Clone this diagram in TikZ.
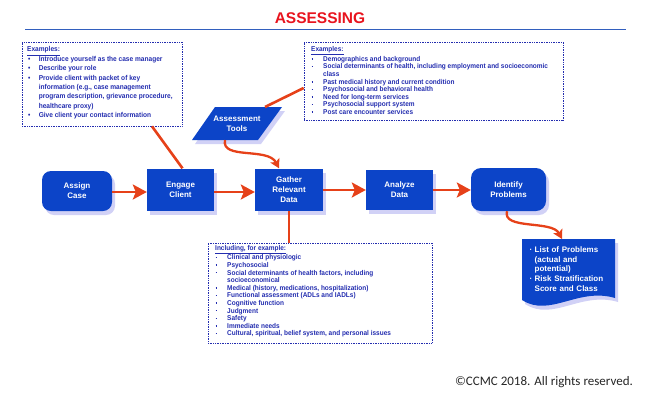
\documentclass[tikz,border=0pt]{standalone}
\usepackage{fontspec}
\usepackage{graphicx}
\setmainfont{Liberation Sans}
\newfontfamily\calfont{Carlito}
\usetikzlibrary{arrows.meta,shadows,calc}
\definecolor{nodeblue}{RGB}{12,68,200}
\definecolor{txtblue}{RGB}{35,45,175}
\definecolor{arrred}{RGB}{230,65,25}
\definecolor{titlered}{RGB}{232,20,30}
\definecolor{lineblue}{RGB}{50,95,190}
\definecolor{shad}{RGB}{190,190,242}
\newcommand\lbul{\par\hangindent=12.5pt\hangafter=1\noindent\makebox[12.5pt][l]{\hspace{1pt}\textbullet}}
\newcommand\sbul{\par\hangindent=13pt\hangafter=1\noindent\makebox[13pt][l]{\hspace{0.5pt}\rule[1.6pt]{1.6pt}{1.5pt}}}
\newcommand\dbul{\par\hangindent=5pt\hangafter=1\noindent\makebox[5pt][l]{\textperiodcentered}}
\newcommand\narrowblock[3]{\scalebox{0.925}[1]{\parbox[t]{#1}{\raggedright\bfseries#2#3}}}
\tikzset{
  myshadow/.style={drop shadow={shadow xshift=3pt,shadow yshift=-4pt,fill=shad,opacity=.7}},
  flow/.style={fill=nodeblue, text=white, font=\bfseries\fontsize{8}{10}\selectfont, align=center, inner sep=0pt, myshadow},
  exbox/.style={draw=txtblue, densely dotted, line width=0.7pt, inner sep=0pt},
  extext/.style={text=txtblue, inner sep=0pt, anchor=north west},
  conn/.style={draw=arrred, line width=2.6pt},
  bigarrow/.style={conn, -{Stealth[length=14pt,width=15pt,inset=3pt]}},
  smallarrow/.style={conn, line width=2.3pt, -{Stealth[length=9pt,width=10pt,inset=2pt]}}
}
\begin{document}
\begin{tikzpicture}[x=1pt,y=-1pt]
\useasboundingbox (0,0) rectangle (658,405);
% title
\node[font=\bfseries\fontsize{15.5}{18}\selectfont, text=titlered, inner sep=0pt] (title) at (320,18.5) {ASSESSING};
\coordinate (rl) at (25,29.5);
\coordinate (rr) at (626,29.5);
\draw[lineblue, line width=1.6pt] (rl) -- (rr);

% example boxes
\node[exbox, minimum width=160pt, minimum height=84pt] (exL) at (102,84) {};
\node[extext] (exLt) at (27,46.5) {\narrowblock{170pt}{\fontsize{7.1}{9.4}\selectfont}{%
\underline{Examples:}%
\lbul Introduce yourself as the case manager
\lbul Describe your role
\lbul Provide client with packet of key\newline information (e.g., case management\newline program description, grievance procedure,\newline healthcare proxy)
\lbul Give client your contact information\par}};

\node[exbox, minimum width=259pt, minimum height=78pt] (exR) at (433.5,81) {};
\node[extext] (exRt) at (311,46.5) {\narrowblock{275pt}{\fontsize{7}{7.6}\selectfont}{%
\underline{Examples:}%
\sbul Demographics and background
\sbul Social determinants of health, including employment and socioeconomic\newline class
\sbul Past medical history and current condition
\sbul Psychosocial and behavioral health
\sbul Need for long-term services
\sbul Psychosocial support system
\sbul Post care encounter services\par}};

\node[exbox, minimum width=224pt, minimum height=100pt] (exB) at (320,293) {};
\node[extext] (exBt) at (215,245) {\narrowblock{235pt}{\fontsize{7}{7.6}\selectfont}{%
\underline{Including, for example:}%
\sbul Clinical and physiologic
\sbul Psychosocial
\sbul Social determinants of health factors, including\newline socioeconomical
\sbul Medical (history, medications, hospitalization)
\sbul Functional assessment (ADLs and IADLs)
\sbul Cognitive function
\sbul Judgment
\sbul Safety
\sbul Immediate needs
\sbul Cultural, spiritual, belief system, and personal issues\par}};

% assessment tools parallelogram
\coordinate (pTL) at (215,107);
\coordinate (pTR) at (282,107);
\coordinate (pBR) at (258,140);
\coordinate (pBL) at (192,140);
\fill[nodeblue, myshadow] (pTL) -- (pTR) -- (pBR) -- (pBL) -- cycle;
\node[font=\bfseries\fontsize{8}{10}\selectfont, text=white, align=center, inner sep=0pt] (tools) at (237,123.5) {Assessment\\Tools};
\coordinate (toolsTop) at (265,107);
\coordinate (toolsBot) at (225,140);

% flow nodes
\node[flow, rounded corners=9pt, minimum width=70pt, minimum height=40pt] (assign) at (77,191) {Assign\\Case};
\node[flow, minimum width=67pt, minimum height=42pt] (engage) at (180.5,189.5) {Engage\\Client};
\node[flow, minimum width=68pt, minimum height=42pt] (gather) at (289,189.5) {Gather\\Relevant\\Data};
\node[flow, minimum width=67pt, minimum height=40pt] (analyze) at (399.5,189.5) {Analyze\\Data};
\node[flow, rounded corners=10pt, minimum width=75pt, minimum height=43pt] (identify) at (508.5,189.5) {Identify\\Problems};

% document shape
\fill[nodeblue, myshadow] (522,239) -- (615,239) -- (615,298) .. controls (578,287) and (550,318) .. (522,300) -- cycle;
\node[extext, text=white, text width=85pt, align=left, font=\bfseries\fontsize{8}{9.7}\selectfont] (doc) at (529.5,242.5) {%
\dbul List of Problems\newline (actual and\newline potential)
\dbul Risk Stratification\newline Score and Class\par};
\coordinate (docTop) at (562,239);

% connectors
\draw[bigarrow] (assign.east |- 0,192) -- (engage.west |- 0,192);
\draw[bigarrow] (engage.east |- 0,192) -- (gather.west |- 0,192);
\draw[bigarrow] (gather.east |- 0,190) -- (analyze.west |- 0,190);
\draw[bigarrow] (analyze.east |- 0,190) -- (identify.west |- 0,190);
\draw[conn] ([xshift=50pt]exL.south) -- ([xshift=2pt]engage.north);
\draw[conn] ([yshift=-7pt]exR.west) -- (toolsTop);
\draw[conn] (gather.south) -- (gather.south |- exB.north);
\draw[smallarrow] (toolsBot) .. controls (221,160) and (268,147) .. ([xshift=-10pt]gather.north);
\draw[smallarrow] ([xshift=-1.5pt]identify.south) .. controls (502,230) and (552,220) .. (docTop);

% copyright
\node[font=\calfont\fontsize{13}{15}\selectfont, inner sep=0pt, text=black!85] (copy) at (544,382) {©CCMC 2018. All rights reserved.};
\end{tikzpicture}
\end{document}
